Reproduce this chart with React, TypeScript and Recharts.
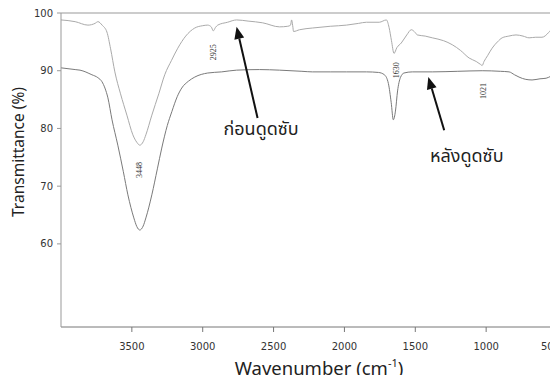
import { LineChart, Line, XAxis, YAxis, ReferenceLine, ReferenceDot } from "recharts";

const CHART_W = 558;
const CHART_H = 383;

const THAI_FONT = "'Noto Sans', 'Noto Sans Thai', 'DejaVu Sans', sans-serif";
const TICK_FONT = "'DejaVu Sans', sans-serif";

// before adsorption (upper trace)
const beforeWave = [
  4000, 3900, 3810, 3760, 3739, 3710, 3676, 3650, 3620, 3580, 3535, 3493, 3465, 3444, 3420, 3401, 3359, 3310, 3268,
  3220, 3176, 3120, 3056, 3000, 2965, 2940, 2925, 2910, 2894, 2824, 2761, 2680, 2577, 2458, 2400, 2380, 2373, 2365,
  2359, 2317, 2225, 2100, 1986, 1900, 1845, 1754, 1704, 1685, 1668, 1650, 1630, 1599, 1560, 1528, 1500, 1486, 1430,
  1380, 1300, 1239, 1180, 1120, 1070, 1040, 1028, 1015, 990, 958, 920, 887, 840, 789, 740, 697, 650, 606, 560, 535, 507,
];
const beforeT = [
  98.8, 98.5, 97.9, 98.2, 98.5, 97.9, 96.7, 93.8, 89.8, 86.0, 82.3, 78.9, 77.6, 77.1, 77.7, 78.9, 82.3, 86.0, 89.3,
  91.8, 93.9, 96.0, 97.4, 97.8, 97.9, 97.6, 96.9, 97.5, 97.9, 98.4, 98.8, 98.6, 98.3, 97.6, 97.7, 97.9, 98.8, 97.8,
  96.8, 97.1, 97.4, 97.7, 97.9, 98.2, 98.4, 98.4, 98.8, 97.5, 95.2, 93.0, 94.0, 94.8, 96.2, 97.1, 96.6, 96.2, 96.0,
  95.7, 95.2, 94.5, 93.5, 92.2, 91.6, 91.1, 90.9, 91.6, 92.6, 93.9, 95.0, 95.7, 96.0, 96.2, 96.0, 95.7, 95.8, 95.8, 96.6, 97.4, 99.1,
];

// after adsorption (lower trace)
const afterWave = [
  4000, 3900, 3866, 3782, 3740, 3711, 3690, 3669, 3640, 3599, 3560, 3528, 3486, 3465, 3444, 3420, 3401, 3359, 3320,
  3289, 3250, 3218, 3180, 3148, 3100, 3056, 2965, 2866, 2761, 2600, 2458, 2300, 2225, 2100, 1986, 1845, 1760, 1718,
  1690, 1670, 1655, 1640, 1625, 1605, 1580, 1521, 1380, 1200, 1028, 900, 838, 800, 768, 720, 676, 620, 577, 540, 507,
];
const afterT = [
  90.5, 90.2, 90.1, 89.3, 88.8, 88.1, 87.0, 85.3, 81.5, 77.1, 72.5, 68.5, 64.5, 63.0, 62.4, 63.1, 64.5, 68.5, 73.0,
  76.6, 80.5, 82.9, 85.5, 87.0, 88.2, 88.9, 89.6, 89.8, 90.1, 90.2, 90.1, 89.9, 89.8, 89.8, 89.8, 89.8, 89.7, 89.3,
  87.8, 84.5, 81.5, 83.0, 86.5, 88.8, 89.6, 89.8, 89.8, 89.9, 90.0, 89.9, 89.8, 89.3, 88.9, 88.5, 88.4, 88.6, 88.7, 89.1, 89.6,
];

const xTicks = [3500, 3000, 2500, 2000, 1500, 1000, 500];
const yTicks = [60, 70, 80, 90, 100];

// peak labels (wavenumber, anchor transmittance)
const peakWave = [3448, 2925, 1630, 1021];
const peakLabelT = [72.8, 93.2, 90.1, 86.5];

const beforeData = beforeWave.map((w, i) => ({ w, t: beforeT[i] }));
const afterData = afterWave.map((w, i) => ({ w, t: afterT[i] }));

function Arrow(props: any) {
  const { x1, y1, x2, y2 } = props;
  const a = Math.atan2(y2 - y1, x2 - x1);
  const L = 12;
  const W = 5;
  const bx = x2 - L * Math.cos(a);
  const by = y2 - L * Math.sin(a);
  const px = -Math.sin(a);
  const py = Math.cos(a);
  return (
    <g>
      <line x1={x1} y1={y1} x2={bx} y2={by} stroke="#111" strokeWidth={2} />
      <polygon points={`${x2},${y2} ${bx + W * px},${by + W * py} ${bx - W * px},${by - W * py}`} fill="#111" />
    </g>
  );
}

function Note({ cx, cy, text }: any) {
  return (
    <text x={cx} y={cy} textAnchor="middle" fontSize={18} fontFamily={THAI_FONT} fill="#222">
      {text}
    </text>
  );
}

function PeakLabel({ cx, cy, text }: any) {
  return (
    <text
      x={cx}
      y={cy}
      transform={`rotate(-90, ${cx}, ${cy})`}
      textAnchor="middle"
      dominantBaseline="central"
      fontSize={8}
      fontFamily="'Liberation Serif', serif"
      fill="#333"
    >
      {text}
    </text>
  );
}

function XLabel({ viewBox }: any) {
  const cx = viewBox.x + viewBox.width / 2 + 10;
  return (
    <text x={cx} y={viewBox.y + 48} textAnchor="middle" fontSize={18.5} fontFamily={THAI_FONT} fill="#222">
      Wavenumber (cm
      <tspan fontSize={11} dy={-8}>-1</tspan>
      <tspan dy={8}>)</tspan>
    </text>
  );
}

function YLabel() {
  return (
    <text
      x={24}
      y={152}
      transform="rotate(-90, 24, 152)"
      textAnchor="middle"
      fontSize={15.5}
      fontFamily={THAI_FONT}
      fill="#222"
    >
      Transmittance (%)
    </text>
  );
}

export default function App() {
  return (
    <div style={{ margin: -8, width: CHART_W, height: CHART_H, background: "#fff" }}>
      <LineChart width={CHART_W} height={CHART_H} margin={{ top: 13, right: 1, bottom: 0, left: 0 }}>
        <XAxis
          type="number"
          dataKey="w"
          domain={[500, 4000]}
          reversed
          ticks={xTicks}
          allowDataOverflow
          height={56}
          tickSize={5}
          tickMargin={11}
          stroke="#777"
          tick={{ fontSize: 10, fill: "#333", fontFamily: TICK_FONT }}
          label={<XLabel />}
        />
        <YAxis
          type="number"
          domain={[45.6, 100]}
          ticks={yTicks}
          allowDataOverflow
          width={61}
          tickSize={4}
          tickMargin={4}
          stroke="#999"
          tick={{ fontSize: 10, fill: "#333", fontFamily: TICK_FONT }}
          label={<YLabel />}
        />
        <ReferenceLine y={100} stroke="#999" />
        <ReferenceLine x={500} stroke="#999" />
        <Line
          data={beforeData}
          dataKey="t"
          type="monotone"
          stroke="#aaa"
          strokeWidth={1}
          dot={false}
          isAnimationActive={false}
        />
        <Line
          data={afterData}
          dataKey="t"
          type="monotone"
          stroke="#7a7a7a"
          strokeWidth={1}
          dot={false}
          isAnimationActive={false}
        />
        {peakWave.map((w, i) => (
          <ReferenceDot
            key={w}
            x={w}
            y={peakLabelT[i]}
            r={0}
            shape={(p: any) => <PeakLabel cx={p.cx} cy={p.cy} text={String(w)} />}
          />
        ))}
        <ReferenceLine segment={[{ x: 2613, y: 81.8 }, { x: 2761, y: 97.6 }]} shape={(p: any) => <Arrow {...p} />} />
        <ReferenceLine segment={[{ x: 1296, y: 79.7 }, { x: 1408, y: 88.9 }]} shape={(p: any) => <Arrow {...p} />} />
        <ReferenceDot x={2588} y={78.9} r={0} shape={(p: any) => <Note cx={p.cx} cy={p.cy} text="ก่อนดูดซับ" />} />
        <ReferenceDot x={1137} y={74.2} r={0} shape={(p: any) => <Note cx={p.cx} cy={p.cy} text="หลังดูดซับ" />} />
      </LineChart>
    </div>
  );
}
